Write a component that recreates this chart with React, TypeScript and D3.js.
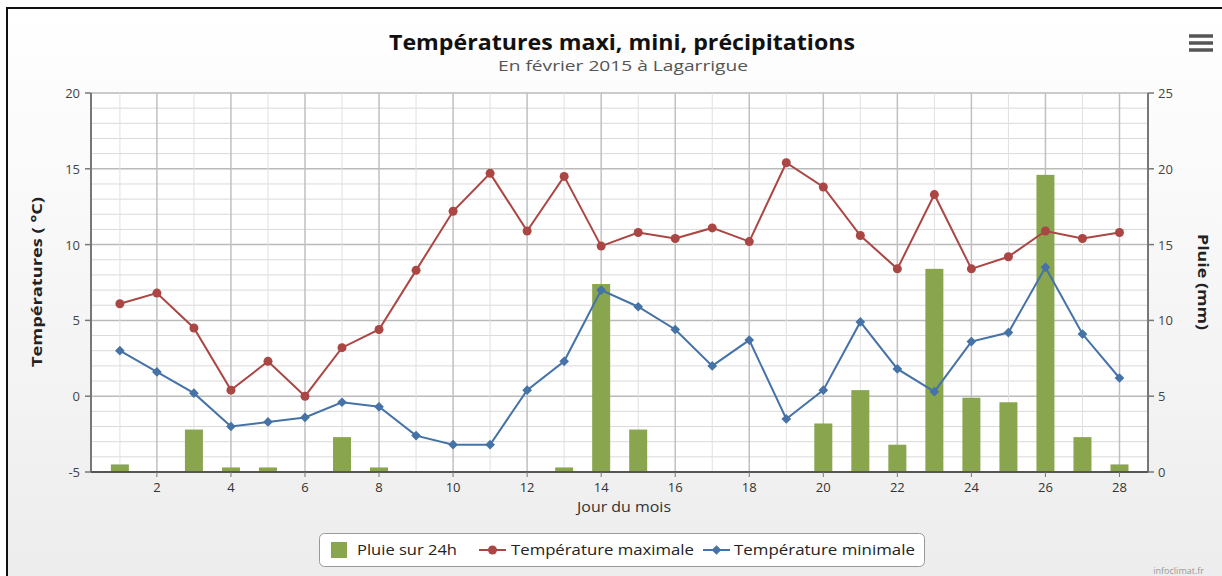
import React from 'react';
import * as d3 from 'd3';

const days = d3.range(1, 29);
const tMax = [6.1, 6.8, 4.5, 0.4, 2.3, 0.0, 3.2, 4.4, 8.3, 12.2, 14.7, 10.9, 14.5, 9.9,
  10.8, 10.4, 11.1, 10.2, 15.4, 13.8, 10.6, 8.4, 13.3, 8.4, 9.2, 10.9, 10.4, 10.8];
const tMin = [3.0, 1.6, 0.2, -2.0, -1.7, -1.4, -0.4, -0.7, -2.6, -3.2, -3.2, 0.4, 2.3, 7.0,
  5.9, 4.4, 2.0, 3.7, -1.5, 0.4, 4.9, 1.8, 0.3, 3.6, 4.2, 8.5, 4.1, 1.2];
const rain = [0.5, 0, 2.8, 0.3, 0.3, 0, 2.3, 0.3, 0, 0, 0, 0, 0.3, 12.4,
  2.8, 0, 0, 0, 0, 3.2, 5.4, 1.8, 13.4, 4.9, 4.6, 19.6, 2.3, 0.5];
const tempTicks = [-5, 0, 5, 10, 15, 20];
const rainTicks = [0, 5, 10, 15, 20, 25];
const dayTicks = [2, 4, 6, 8, 10, 12, 14, 16, 18, 20, 22, 24, 26, 28];

const RED = '#AA4643';
const BLUE = '#4572A7';
const GREEN = '#89A54E';
const FONT = '"Open Sans", "DejaVu Sans", sans-serif';

const plot = { left: 91, right: 1148, top: 93, bottom: 472 };

const x = d3.scaleLinear().domain([0.22, 28.77]).range([plot.left, plot.right]);
const yT = d3.scaleLinear().domain([-5, 20]).range([plot.bottom, plot.top]);
const yR = d3.scaleLinear().domain([0, 25]).range([plot.bottom, plot.top]);

const line = d3.line<number>().x((d, i) => x(days[i])).y(d => yT(d));
const diamond = d3.symbol().type(d3.symbolDiamond2).size(60)();

export default function App() {
  const minorY = d3.range(-5, 21, 1);
  return (
    <svg width={1222} height={576} style={{ position: 'absolute', left: 0, top: 0 }} fontFamily={FONT}>
      <defs>
        <linearGradient id="bg" x1="0" y1="0" x2="0" y2="1">
          <stop offset="0" stopColor="#ffffff" />
          <stop offset="1" stopColor="#ececec" />
        </linearGradient>
      </defs>
      <rect width={1222} height={576} fill="#fff" />
      <rect x={7} y={8} width={1240} height={600} fill="url(#bg)" stroke="#111" strokeWidth={2} />
      <rect x={plot.left} y={plot.top} width={plot.right - plot.left} height={plot.bottom - plot.top} fill="#fff" />

      {/* grid */}
      {minorY.map(v => (
        <line key={'h' + v} x1={plot.left} x2={plot.right} y1={yT(v)} y2={yT(v)}
          stroke={v % 5 === 0 ? '#bababa' : '#dadada'} strokeWidth={v % 5 === 0 ? 1.5 : 1} />
      ))}
      {days.map(d => (
        <line key={'v' + d} x1={x(d)} x2={x(d)} y1={plot.top} y2={plot.bottom}
          stroke={d % 2 === 0 ? '#c0c0c0' : '#e0e0e0'} strokeWidth={d % 2 === 0 ? 1.5 : 1} />
      ))}

      {/* bars */}
      {rain.map((r, i) => r > 0 && (
        <rect key={'b' + i} x={x(days[i]) - 9} width={18} y={yR(r)} height={yR(0) - yR(r)} fill={GREEN} />
      ))}

      {/* lines */}
      <path d={line(tMax) || ''} fill="none" stroke={RED} strokeWidth={2} />
      {tMax.map((t, i) => <circle key={'r' + i} cx={x(days[i])} cy={yT(t)} r={4.5} fill={RED} />)}
      <path d={line(tMin) || ''} fill="none" stroke={BLUE} strokeWidth={2} />
      {tMin.map((t, i) => (
        <path key={'m' + i} d={diamond || ''} transform={`translate(${x(days[i])},${yT(t)})`} fill={BLUE} />
      ))}

      {/* axes */}
      <line x1={plot.left} x2={plot.left} y1={plot.top} y2={plot.bottom} stroke="#777" strokeWidth={2} />
      <line x1={plot.right} x2={plot.right} y1={plot.top} y2={plot.bottom} stroke="#777" strokeWidth={2} />
      <line x1={plot.left} x2={plot.right} y1={plot.bottom} y2={plot.bottom} stroke="#555" strokeWidth={2} />
      {tempTicks.map(v => (
        <g key={'lt' + v}>
          <line x1={plot.left - 6} x2={plot.left} y1={yT(v)} y2={yT(v)} stroke="#777" strokeWidth={1.5} />
          <text x={plot.left - 11} y={yT(v) + 5} textAnchor="end" fontSize={13} fill="#444">{v}</text>
        </g>
      ))}
      {rainTicks.map(v => (
        <g key={'rt' + v}>
          <line x1={plot.right} x2={plot.right + 6} y1={yR(v)} y2={yR(v)} stroke="#777" strokeWidth={1.5} />
          <text x={plot.right + 10} y={yR(v) + 5} textAnchor="start" fontSize={13} fill="#444">{v}</text>
        </g>
      ))}
      {dayTicks.map(d => (
        <g key={'xt' + d}>
          <line x1={x(d)} x2={x(d)} y1={plot.bottom} y2={plot.bottom + 5} stroke="#777" />
          <text x={x(d)} y={492} textAnchor="middle" fontSize={13} fill="#333">{d}</text>
        </g>
      ))}

      {/* titles */}
      <text x={622} y={50} textAnchor="middle" fontSize={21} fontWeight="bold" fill="#111"
        textLength={466} lengthAdjust="spacingAndGlyphs">Températures maxi, mini, précipitations</text>
      <text x={623} y={71} textAnchor="middle" fontSize={15} fill="#555"
        textLength={250} lengthAdjust="spacingAndGlyphs">En février 2015 à Lagarrigue</text>
      <text x={624} y={512} textAnchor="middle" fontSize={15} fill="#333"
        textLength={94} lengthAdjust="spacingAndGlyphs">Jour du mois</text>
      <text transform="translate(42,282) rotate(-90)" textAnchor="middle" fontSize={14} fontWeight="bold" fill="#222"
        textLength={170} lengthAdjust="spacingAndGlyphs">Températures ( °C)</text>
      <text transform="translate(1198,282) rotate(90)" textAnchor="middle" fontSize={14} fontWeight="bold" fill="#222"
        textLength={96} lengthAdjust="spacingAndGlyphs">Pluie (mm)</text>

      {/* legend */}
      <rect x={319.5} y={533.5} width={605} height={33} rx={5} fill="#fff" stroke="#999" />
      <rect x={331} y={542} width={16} height={16} fill={GREEN} />
      <text x={357} y={555} fontSize={14} fill="#222" textLength={100} lengthAdjust="spacingAndGlyphs">Pluie sur 24h</text>
      <line x1={479} x2={506} y1={550} y2={550} stroke={RED} strokeWidth={2} />
      <circle cx={492.5} cy={550} r={4.5} fill={RED} />
      <text x={511} y={555} fontSize={14} fill="#222" textLength={183} lengthAdjust="spacingAndGlyphs">Température maximale</text>
      <line x1={703} x2={730} y1={550} y2={550} stroke={BLUE} strokeWidth={2} />
      <path d={diamond || ''} transform="translate(716.5,550)" fill={BLUE} />
      <text x={734} y={555} fontSize={14} fill="#222" textLength={181} lengthAdjust="spacingAndGlyphs">Température minimale</text>

      {/* menu icon and credit */}
      {[36, 43, 50].map(y => (
        <rect key={'mn' + y} x={1189} y={y - 1.75} width={24} height={3.5} fill="#555" />
      ))}
      <text x={1204} y={574} textAnchor="end" fontSize={9} fill="#999">infoclimat.fr</text>
    </svg>
  );
}
